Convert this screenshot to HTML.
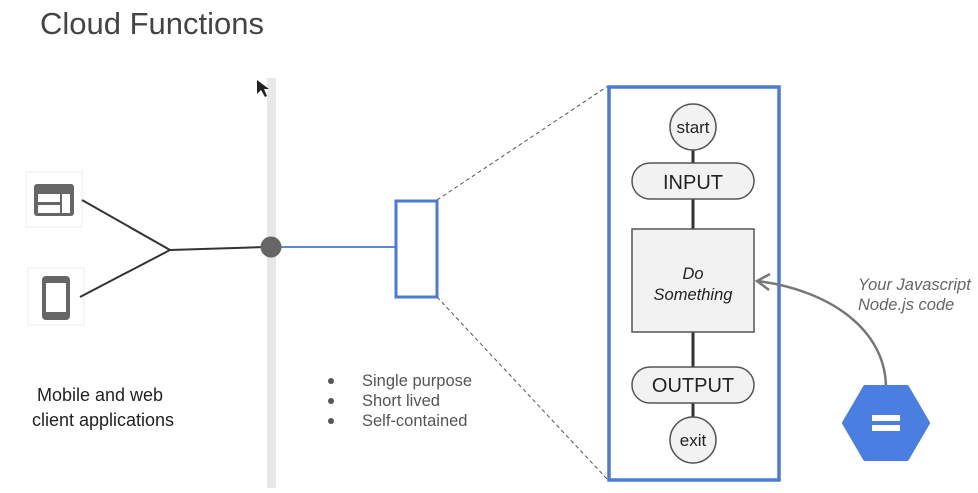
<!DOCTYPE html>
<html><head><style>
body{margin:0;background:#fff;width:978px;height:488px;overflow:hidden;font-family:"Liberation Sans",sans-serif;}
</style></head><body>
<svg width="978" height="488" viewBox="0 0 978 488" xmlns="http://www.w3.org/2000/svg" font-family="Liberation Sans, sans-serif">
<rect width="978" height="488" fill="#fff"/>
<text x="40" y="34" font-size="31" fill="#444">Cloud Functions</text>
<rect x="267" y="78" width="9" height="410" fill="#e8e8e8"/>
<rect x="26" y="172" width="56" height="55" fill="#fff" stroke="#eee" stroke-width="1"/>
<rect x="28" y="268" width="56" height="57" fill="#fff" stroke="#eee" stroke-width="1"/>
<rect x="34" y="184" width="40" height="32" rx="3" fill="#666"/>
<rect x="38" y="194" width="22" height="8" fill="#fff"/>
<rect x="38" y="205" width="22" height="8" fill="#fff"/>
<rect x="62" y="194" width="8" height="19" fill="#fff"/>
<rect x="42" y="276" width="28" height="44" rx="4" fill="#666"/>
<rect x="46" y="283" width="20" height="29" fill="#fff"/>
<path d="M82 200 L170 250 L80 297 M170 250 L265 247" stroke="#333" stroke-width="2" fill="none"/>
<line x1="276" y1="247" x2="396" y2="247" stroke="#5b8ad8" stroke-width="2"/>
<circle cx="271" cy="247" r="10.5" fill="#666"/>
<text x="100" y="401" font-size="18" fill="#222" text-anchor="middle">Mobile and web</text>
<text x="103" y="426" font-size="18" fill="#222" text-anchor="middle">client applications</text>
<rect x="396" y="201" width="41" height="96" fill="#fff" stroke="#4a7bd6" stroke-width="3"/>
<line x1="437" y1="200" x2="608" y2="86" stroke="#555" stroke-width="1" stroke-dasharray="4,3"/>
<line x1="437" y1="297" x2="608" y2="480" stroke="#555" stroke-width="1" stroke-dasharray="4,3"/>
<g font-size="16.5" fill="#555">
<circle cx="331" cy="381" r="3" fill="#555"/><text x="362" y="386">Single purpose</text>
<circle cx="331" cy="401" r="3" fill="#555"/><text x="362" y="406">Short lived</text>
<circle cx="331" cy="421" r="3" fill="#555"/><text x="362" y="426">Self-contained</text>
</g>
<rect x="609" y="87" width="170" height="393" fill="#fff" stroke="#4a7bd6" stroke-width="3.5"/>
<line x1="693" y1="150" x2="693" y2="418" stroke="#333" stroke-width="3"/>
<circle cx="693" cy="127" r="23" fill="#f2f2f2" stroke="#555" stroke-width="1.5"/>
<text x="693" y="133" font-size="17" text-anchor="middle" fill="#222">start</text>
<rect x="632" y="163" width="122" height="36" rx="18" fill="#f2f2f2" stroke="#555" stroke-width="1.5"/>
<text x="693" y="189" font-size="20" text-anchor="middle" fill="#222">INPUT</text>
<rect x="632" y="229" width="122" height="103" fill="#f2f2f2" stroke="#555" stroke-width="1.5"/>
<text x="693" y="279" font-size="16.5" font-style="italic" text-anchor="middle" fill="#222">Do</text>
<text x="693" y="300" font-size="16.5" font-style="italic" text-anchor="middle" fill="#222">Something</text>
<rect x="632" y="367" width="122" height="36" rx="18" fill="#f2f2f2" stroke="#555" stroke-width="1.5"/>
<text x="693" y="392" font-size="20" text-anchor="middle" fill="#222">OUTPUT</text>
<circle cx="693" cy="440" r="23" fill="#f2f2f2" stroke="#555" stroke-width="1.5"/>
<text x="693" y="446" font-size="17" text-anchor="middle" fill="#222">exit</text>
<path d="M886 388 C886 330 830 290 757 281" stroke="#777" stroke-width="2.5" fill="none"/>
<path d="M770 274 L757 281 L769 290" stroke="#777" stroke-width="2.5" fill="none"/>
<text x="858" y="290" font-size="16.5" font-style="italic" fill="#666">Your Javascript</text>
<text x="858" y="310" font-size="16.5" font-style="italic" fill="#666">Node.js code</text>
<polygon points="865,387 907,387 928,423 907,459 865,459 844,423" fill="#4a7ee0" stroke="#4a7ee0" stroke-width="4" stroke-linejoin="round"/>
<rect x="872" y="415" width="28" height="6" fill="#fff"/>
<rect x="872" y="425" width="28" height="6" fill="#fff"/>
<path d="M257 80 L257 94 L261 90 L265 97 L267 96 L264 89 L269 89 Z" fill="#222"/>
</svg>
</body></html>
